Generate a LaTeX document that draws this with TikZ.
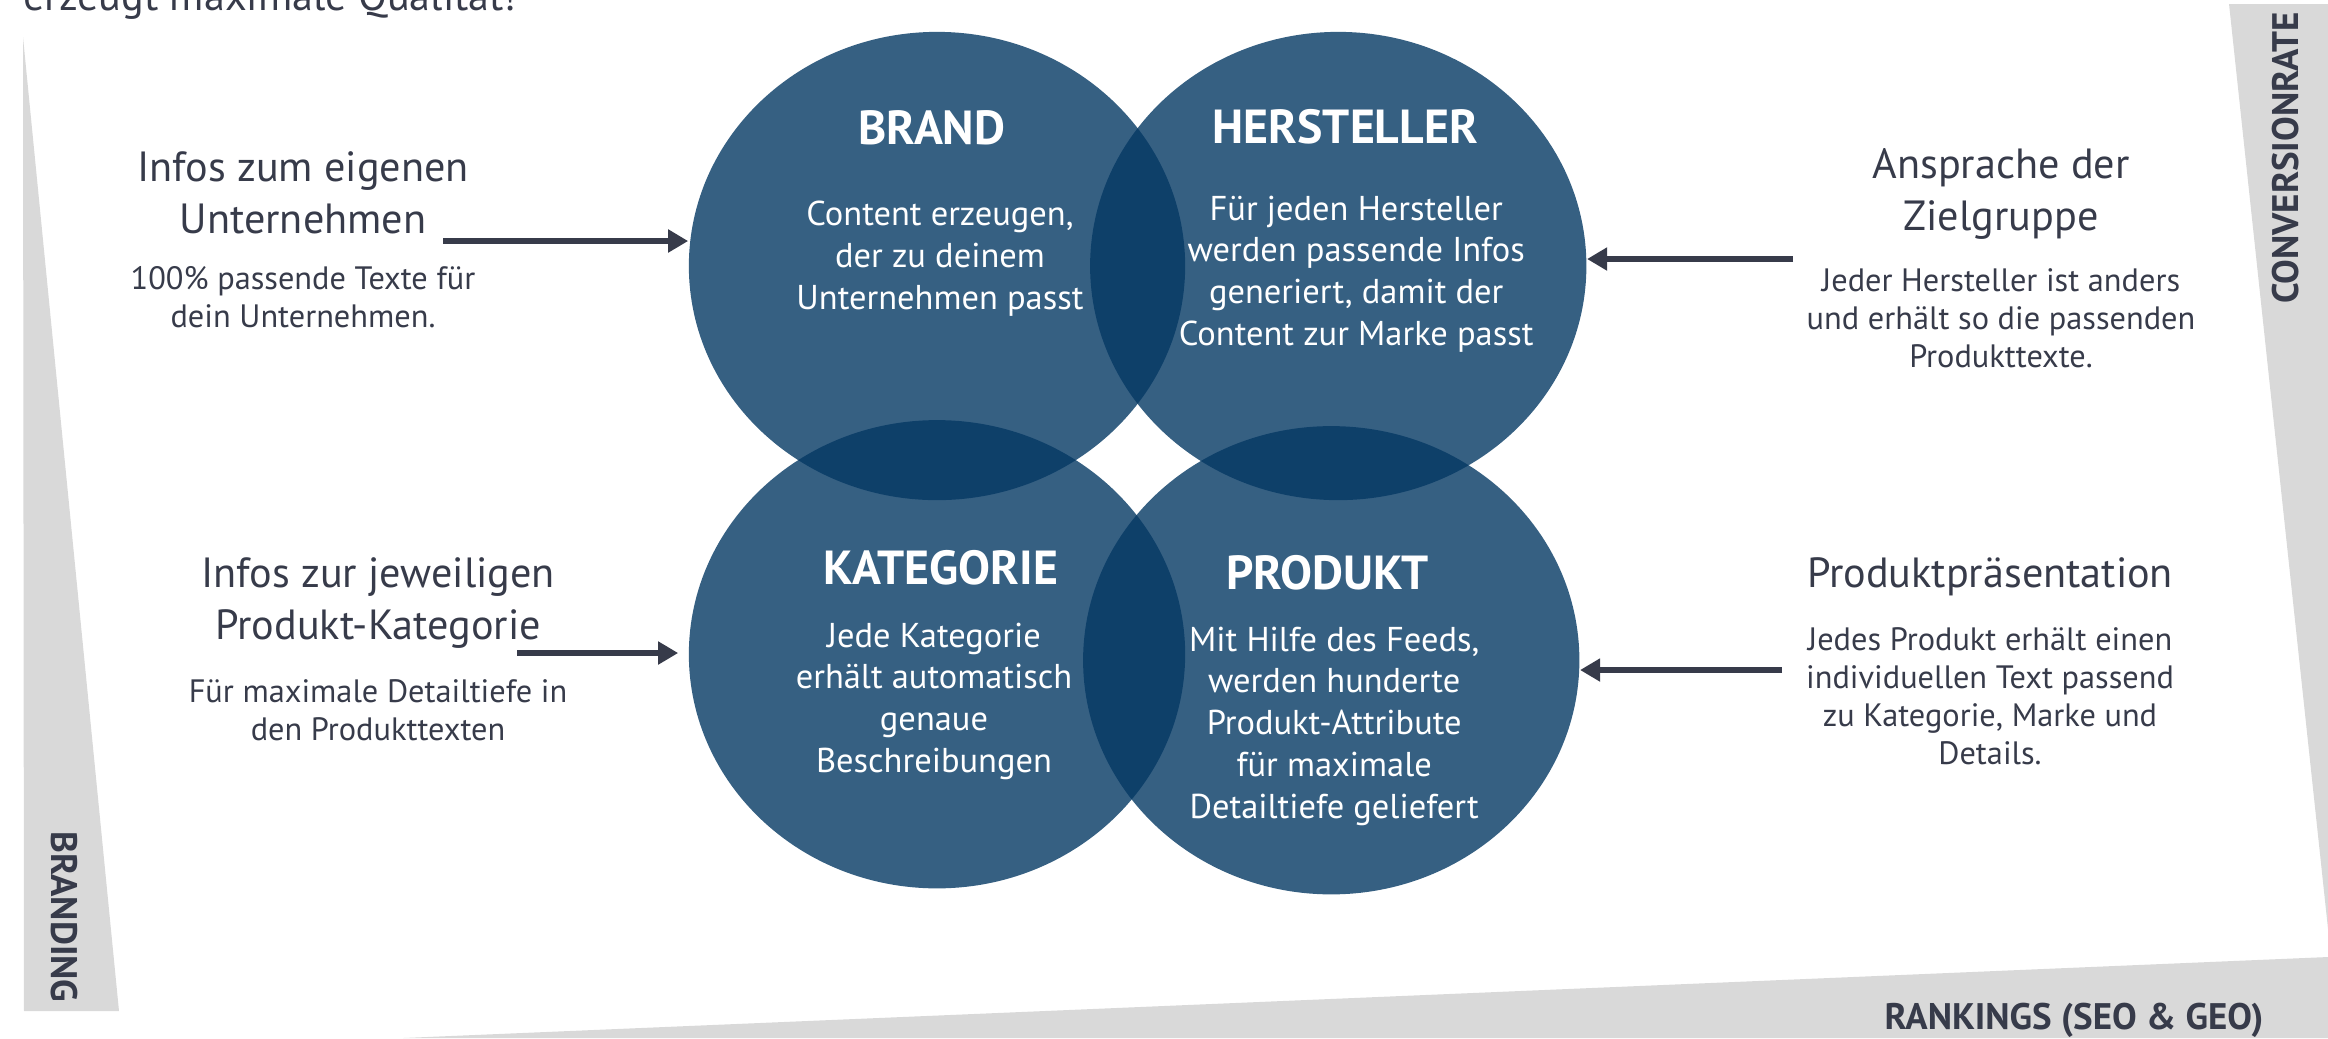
\documentclass[tikz,border=0pt]{standalone}
\usepackage{fontspec}
\setmainfont{PT Sans}
\usetikzlibrary{positioning,shapes.geometric,arrows.meta}
\definecolor{venn}{HTML}{043863}
\definecolor{ink}{HTML}{373B4A}
\definecolor{bar}{HTML}{D9D9D9}

\begin{document}
\begin{tikzpicture}[x=0.01cm,y=-0.01cm,node distance=1cm,on grid,
    blob/.style={ellipse,fill=venn,fill opacity=0.8,minimum width=4.96cm,minimum height=4.68cm,inner sep=0pt},
    head/.style={text=white,font=\bfseries\fontsize{13.6}{16}\selectfont},
    body/.style={text=white,align=center,font=\fontsize{9.8}{11.9}\selectfont},
    side/.style={text=ink,align=center,font=\fontsize{12}{14.9}\selectfont},
    note/.style={text=ink,align=center,font=\fontsize{9.2}{10.8}\selectfont},
    axis/.style={text=ink,font=\bfseries\fontsize{10.5}{12}\selectfont},
    arr/.style={-{Triangle[length=0.2cm,width=0.22cm]},draw=ink,line width=1.8pt}]
	\useasboundingbox (0,0) rectangle (2328,1038);
	\clip (0,0) rectangle (2328,1038);
	
	% grey wedges along the edges
	\fill[bar] (23,37) -- (24,1011) -- (119,1011) -- cycle;
	\fill[bar] (2229,4) -- (2328,4) -- (2328,929) -- cycle;
	\fill[bar] (403,1038) -- (2328,957) -- (2328,1038) -- cycle;
	
	\node[axis,rotate=-90] (A_1) at (64,917) {BRANDING};
	\node[axis,rotate=90]  (A_2) at (2286,158) {CONVERSIONRATE};
	\node[axis]            (A_3) at (2074,1020) {RANKINGS (SEO \& GEO)};
	
	\node[text=ink,font=\fontsize{12}{15}\selectfont,anchor=base west] (Q_1) at (11,10) {erzeugt maximale Qualität!};
	
	% the four ellipses
	\node[blob] (E_1) at (937,266) {};
	\node[blob] (E_2) [right=4.01cm of E_1] {};
	\node[blob] (E_3) [below=3.88cm of E_1] {};
	\node[blob] (E_4) [below right=0.06cm and 3.94cm of E_3] {};
	
	\node[head] (T_1) [above left=1.38cm and 0.05cm of E_1] {BRAND};
	\node[head] (T_2) [above right=1.39cm and 0.07cm of E_2] {HERSTELLER};
	\node[head] (T_3) [above right=0.86cm and 0.04cm of E_3] {KATEGORIE};
	\node[head] (T_4) [above left=0.87cm and 0.04cm of E_4] {PRODUKT};
	
	\node[body] (B_1) [above right=0.07cm and 0.03cm of E_1] {Content erzeugen,\\der zu deinem\\Unternehmen passt};
	\node[body] (B_2) [below right=0.08cm and 0.18cm of E_2] {Für jeden Hersteller\\werden passende Infos\\generiert, damit der\\Content zur Marke passt};
	\node[body] (B_3) [below left=0.47cm and 0.03cm of E_3] {Jede Kategorie\\erhält automatisch\\genaue\\Beschreibungen};
	\node[body] (B_4) [below right=0.66cm and 0.03cm of E_4] {Mit Hilfe des Feeds,\\werden hunderte\\Produkt-Attribute\\für maximale\\Detailtiefe geliefert};
	
	% texts left and right
	\node[side] (L_1) at (303,193) {Infos zum eigenen\\Unternehmen};
	\node[note] (N_1) [below=1.04cm of L_1] {100\% passende Texte für\\dein Unternehmen.};
	\node[side] (L_2) at (378,603) {Infos zur jeweiligen\\Produkt-Kategorie};
	\node[note] (N_2) [below=1.07cm of L_2] {Für maximale Detailtiefe in\\den Produkttexten};
	\node[side] (R_1) at (2001,194) {Ansprache der\\Zielgruppe};
	\node[note] (N_3) [below=1.24cm of R_1] {Jeder Hersteller ist anders\\und erhält so die passenden\\Produkttexte.};
	\node[side] (R_2) at (1990,577) {Produktpräsentation};
	\node[note] (N_4) [below=1.19cm of R_2] {Jedes Produkt erhält einen\\individuellen Text passend\\zu Kategorie, Marke und\\Details.};
	
	% arrows into the ellipses
	\coordinate (P_1) at (443,241);
	\coordinate (P_2) at (517,653);
	\coordinate (P_3) at (1793,259);
	\coordinate (P_4) at (1782,670);
	\draw[arr] (P_1) -- (P_1 -| E_1.west);
	\draw[arr,shorten >=0.1cm] (P_2) -- (P_2 -| E_3.west);
	\draw[arr] (P_3) -- (P_3 -| E_2.east);
	\draw[arr] (P_4) -- (P_4 -| E_4.east);
\end{tikzpicture}
\end{document}
